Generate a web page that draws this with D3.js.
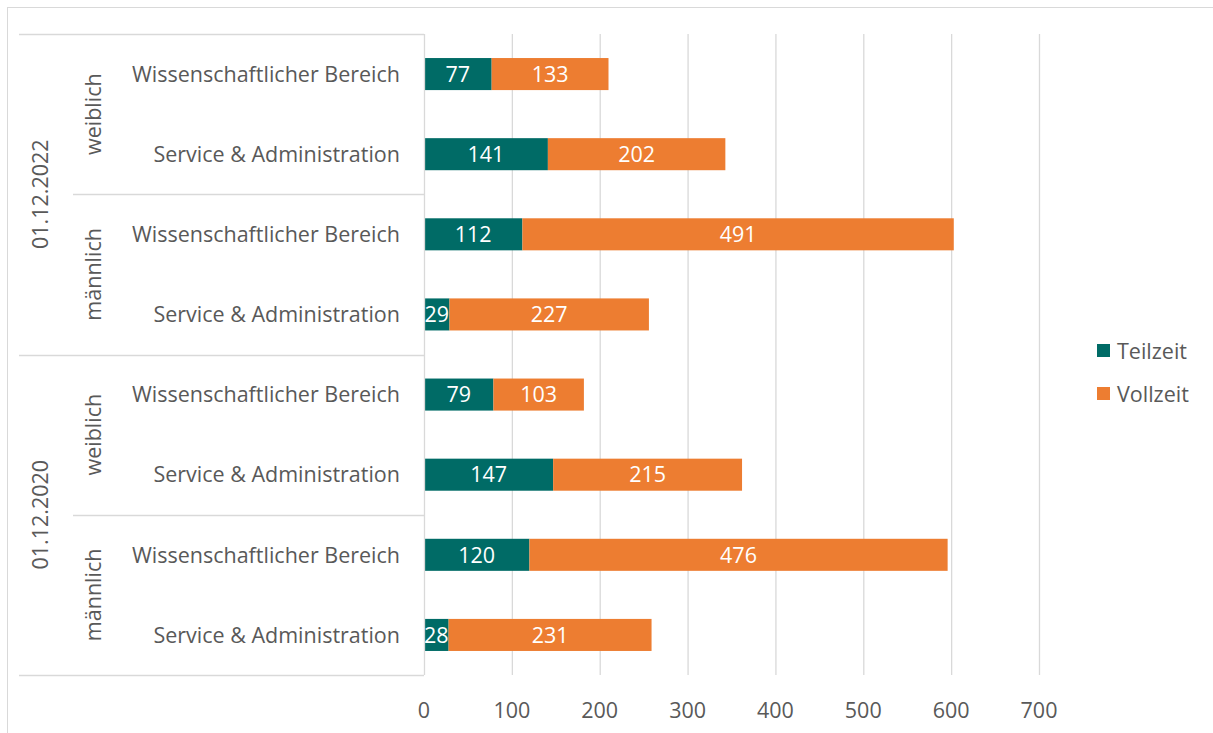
<!DOCTYPE html>
<html>
<head>
<meta charset="utf-8">
<script src="https://cdn.jsdelivr.net/npm/d3@7"></script>
<style>
  body { margin: 0; background: #fff; }
  text { font-family: "Open Sans", "Noto Sans", sans-serif; fill: #595959; font-size: 21.5px; }
</style>
</head>
<body>
<svg width="1213" height="733"></svg>
<script>
// Data
var dates = ["01.12.2022", "01.12.2020"];
var genders = ["weiblich", "männlich"];
var areas = ["Wissenschaftlicher Bereich", "Service & Administration"];
var teilzeit = [77, 141, 112, 29, 79, 147, 120, 28];
var vollzeit = [133, 202, 491, 227, 103, 215, 476, 231];
var seriesNames = ["Teilzeit", "Vollzeit"];
var xTicks = [0, 100, 200, 300, 400, 500, 600, 700];

var colors = ["#006B66", "#ED7D31"];
var gridColor = "#D9D9D9";

// build rows
var rows = [];
dates.forEach(function (d) {
  genders.forEach(function (g) {
    areas.forEach(function (a) {
      rows.push({ date: d, gender: g, area: a, key: d + "|" + g + "|" + a });
    });
  });
});
rows.forEach(function (r, i) {
  r.Teilzeit = teilzeit[i];
  r.Vollzeit = vollzeit[i];
});

var svg = d3.select("svg");

// chart frame
svg.append("rect")
  .attr("x", 7.5).attr("y", 7.5)
  .attr("width", 1213).attr("height", 740)
  .attr("fill", "none").attr("stroke", gridColor);

var plot = { left: 424, right: 1039, top: 34, bottom: 675 };

var x = d3.scaleLinear().domain([0, 700]).range([plot.left, plot.right]);
var y = d3.scaleBand().domain(rows.map(function (r) { return r.key; }))
  .range([plot.top, plot.bottom]).paddingInner(0.6).paddingOuter(0.3);

// gridlines
svg.append("g").selectAll("line")
  .data(xTicks.slice(1))
  .enter().append("line")
  .attr("x1", function (d) { return x(d) + 0.5; })
  .attr("x2", function (d) { return x(d) + 0.5; })
  .attr("y1", plot.top).attr("y2", plot.bottom)
  .attr("stroke", gridColor).attr("stroke-width", 1.3);

// x tick labels
svg.append("g").selectAll("text")
  .data(xTicks)
  .enter().append("text")
  .attr("x", function (d) { return x(d); })
  .attr("y", 718)
  .attr("text-anchor", "middle")
  .text(function (d) { return d; });

// stacked bars
var stack = d3.stack().keys(seriesNames);
var layers = stack(rows);

var layer = svg.append("g").selectAll("g")
  .data(layers)
  .enter().append("g")
  .attr("fill", function (d, i) { return colors[i]; });

layer.selectAll("rect")
  .data(function (d) { return d; })
  .enter().append("rect")
  .attr("x", function (d) { return x(d[0]); })
  .attr("y", function (d) { return y(d.data.key); })
  .attr("width", function (d) { return x(d[1]) - x(d[0]); })
  .attr("height", y.bandwidth());

layer.selectAll("text")
  .data(function (d) { return d; })
  .enter().append("text")
  .attr("x", function (d) { return (x(d[0]) + x(d[1])) / 2; })
  .attr("y", function (d) { return y(d.data.key) + y.bandwidth() / 2; })
  .attr("dy", "0.36em")
  .attr("text-anchor", "middle")
  .style("fill", "#fff")
  .text(function (d) { return d[1] - d[0]; });

// hierarchical category axis
var axisG = svg.append("g");
var step = y.step();

axisG.append("line")
  .attr("x1", plot.left + 0.5).attr("x2", plot.left + 0.5)
  .attr("y1", plot.top).attr("y2", plot.bottom)
  .attr("stroke", gridColor).attr("stroke-width", 1.3);

// area labels
axisG.selectAll("text.area")
  .data(rows)
  .enter().append("text")
  .attr("class", "area")
  .attr("x", 400)
  .attr("y", function (r) { return y(r.key) + y.bandwidth() / 2; })
  .attr("dy", "0.36em")
  .attr("text-anchor", "end")
  .text(function (r) { return r.area; });

// gender groups
var genderGroups = [];
dates.forEach(function (d, di) {
  genders.forEach(function (g, gi) {
    var i0 = (di * genders.length + gi) * areas.length;
    genderGroups.push({ label: g, i0: i0, i1: i0 + areas.length });
  });
});
var rowTop = function (i) { return plot.top + i * step; };

axisG.selectAll("text.gender")
  .data(genderGroups)
  .enter().append("text")
  .attr("class", "gender")
  .attr("transform", function (g) {
    return "translate(93," + (rowTop(g.i0) + rowTop(g.i1)) / 2 + ") rotate(-90)";
  })
  .attr("dy", "0.36em")
  .attr("text-anchor", "middle")
  .text(function (g) { return g.label; });

// date labels
axisG.selectAll("text.date")
  .data(dates)
  .enter().append("text")
  .attr("class", "date")
  .attr("transform", function (d, di) {
    var n = genders.length * areas.length;
    return "translate(40," + (rowTop(di * n) + rowTop((di + 1) * n)) / 2 + ") rotate(-90)";
  })
  .attr("dy", "0.36em")
  .attr("text-anchor", "middle")
  .text(function (d) { return d; });

// separators
var sepData = [];
for (var i = 0; i <= rows.length; i += areas.length) {
  var full = (i % (genders.length * areas.length) === 0);
  sepData.push({ y: rowTop(i), x1: full ? 19 : 73 });
}
axisG.selectAll("line.sep")
  .data(sepData)
  .enter().append("line")
  .attr("class", "sep")
  .attr("x1", function (d) { return d.x1; })
  .attr("x2", plot.left)
  .attr("y1", function (d) { return Math.round(d.y) + 0.5; })
  .attr("y2", function (d) { return Math.round(d.y) + 0.5; })
  .attr("stroke", gridColor).attr("stroke-width", 1.3);

// legend
var legend = svg.append("g").selectAll("g")
  .data(seriesNames)
  .enter().append("g")
  .attr("transform", function (d, i) { return "translate(1097," + (344 + i * 43) + ")"; });
legend.append("rect")
  .attr("width", 13).attr("height", 13)
  .attr("fill", function (d, i) { return colors[i]; });
legend.append("text")
  .attr("x", 20).attr("y", 7)
  .attr("dy", "0.36em")
  .text(function (d) { return d; });
</script>
</body>
</html>
